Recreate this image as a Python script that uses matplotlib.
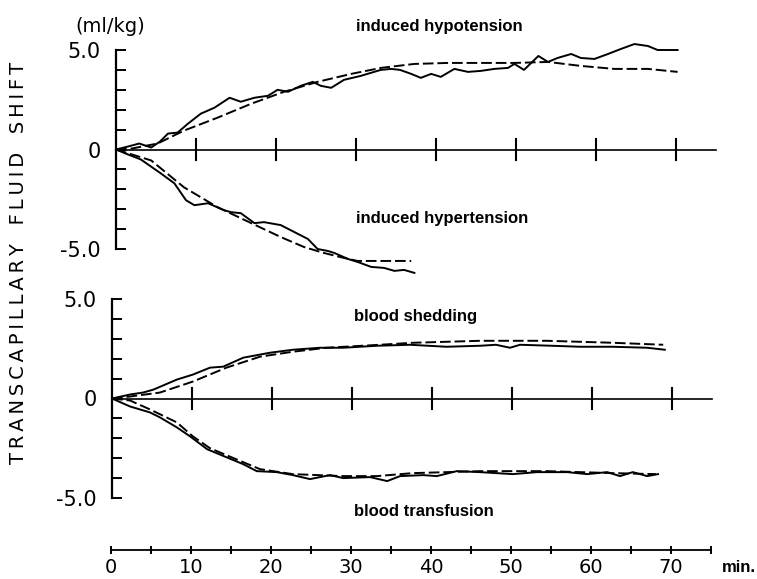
import numpy as np
import matplotlib
matplotlib.use("Agg")
import matplotlib.pyplot as plt
from matplotlib.ticker import FixedLocator, FixedFormatter

# induced hypotension (top panel, upper curves)
hypo_t = [0, 1.5, 2.9, 4.4, 5.5, 6.5, 7.7, 9, 10.6, 12.3, 14.2, 15.6, 17.3, 19, 20.2, 21.5,
          23.1, 24.6, 25.6, 26.9, 28.5, 30.6, 33.1, 34.4, 35.5, 36.9, 38.1, 39.4, 40.6, 42.3,
          44, 45.6, 47.3, 49, 49.8, 51, 52.8, 54, 55.2, 56.9, 58.1, 59.8, 61.5, 63.1, 64.8,
          66.5, 67.7, 70.2]
hypo_v = [0, 0.15, 0.3, 0.1, 0.4, 0.8, 0.85, 1.3, 1.8, 2.1, 2.6, 2.4, 2.6, 2.7, 3.0, 2.9,
          3.2, 3.4, 3.2, 3.1, 3.5, 3.7, 4.0, 4.05, 4.0, 3.8, 3.6, 3.8, 3.65, 4.05,
          3.9, 3.95, 4.05, 4.1, 4.3, 4.0, 4.7, 4.4, 4.6, 4.8, 4.6, 4.55, 4.8, 5.05, 5.3,
          5.2, 5.0, 5.0]
hypo_fit_t = [0, 2, 5.2, 8.5, 12.7, 16.9, 21, 25.2, 29.4, 33.1, 37.3, 41.5, 45.6, 49.8,
              54, 58.1, 62.3, 66.5, 70.2]
hypo_fit_v = [0, 0.05, 0.3, 0.95, 1.6, 2.3, 2.9, 3.4, 3.8, 4.1, 4.3, 4.35, 4.35, 4.35,
              4.4, 4.2, 4.05, 4.05, 3.9]

# induced hypertension (top panel, lower curves)
hyper_t = [0, 1.5, 3.1, 5.6, 7.3, 8.75, 9.8, 11.5, 13.5, 14.4, 15.6, 17.3, 18.5, 20.6,
           22.3, 24, 25.2, 26.5, 27.3, 29, 30.2, 31.9, 33.5, 34.8, 36, 37.3]
hyper_v = [0, -0.25, -0.5, -1.2, -1.7, -2.55, -2.8, -2.7, -3.05, -3.15, -3.2, -3.7, -3.65,
           -3.8, -4.15, -4.5, -5.0, -5.1, -5.2, -5.5, -5.65, -5.9, -5.95, -6.1, -6.05, -6.2]
hyper_fit_t = [0, 4.4, 8.5, 12.7, 16.9, 20.6, 23.5, 26, 28.5, 30.2, 33.1, 36.9]
hyper_fit_v = [0, -0.55, -1.9, -2.9, -3.7, -4.4, -4.9, -5.2, -5.45, -5.6, -5.6, -5.6]

# blood shedding (bottom panel, upper curves)
shed_t = [0, 2.25, 3.9, 5.2, 8.1, 10.1, 12.25, 13.9, 16.4, 19.75, 22.6, 26, 28.9, 33.1,
          37.25, 41.8, 46, 48, 49.75, 51, 55, 58.5, 62.6, 66.9, 69.1]
shed_v = [0, 0.2, 0.3, 0.45, 0.95, 1.2, 1.55, 1.6, 2.05, 2.3, 2.45, 2.55, 2.55, 2.65,
          2.7, 2.6, 2.65, 2.7, 2.55, 2.7, 2.65, 2.6, 2.6, 2.55, 2.45]
shed_fit_t = [0, 2.25, 6, 10.1, 14.3, 18.5, 22.6, 26.8, 33.5, 37.6, 46, 54.4, 62.6, 68.9]
shed_fit_v = [0, 0.1, 0.3, 0.85, 1.55, 2.1, 2.35, 2.55, 2.7, 2.8, 2.9, 2.9, 2.8, 2.7]

# blood transfusion (bottom panel, lower curves)
trans_t = [0, 2.25, 4.75, 6, 8.1, 9.75, 11.9, 14.3, 16.4, 18.1, 20.6, 22.6, 24.75, 27.25,
           28.9, 32.25, 34.4, 36, 38.9, 40.6, 43.1, 46, 50.1, 53.1, 56.9, 59.4, 61.9, 63.5,
           65.1, 66.9, 68.25]
trans_v = [0, -0.4, -0.7, -0.95, -1.45, -1.9, -2.55, -2.95, -3.3, -3.65, -3.7, -3.85,
           -4.05, -3.85, -4.0, -3.95, -4.15, -3.9, -3.85, -3.9, -3.65, -3.7, -3.8, -3.7,
           -3.7, -3.8, -3.7, -3.9, -3.7, -3.9, -3.8]
trans_fit_t = [0, 2.25, 4.75, 8.1, 10.1, 12.25, 16.4, 18.5, 22.6, 28.9, 33.1, 37.6, 46,
               54.4, 62.6, 68]
trans_fit_v = [0, -0.1, -0.55, -1.2, -1.9, -2.5, -3.2, -3.55, -3.8, -3.9, -3.9, -3.75,
               -3.65, -3.65, -3.75, -3.8]

cross_t = [10, 20, 30, 40, 50, 60, 70]
ytick_vals = [-5, 0, 5]
ytick_labels = ["-5.0", "0", "5.0"]
xtick_vals = [0, 10, 20, 30, 40, 50, 60, 70]

W, H = 757, 579
fig = plt.figure(figsize=(W / 100, H / 100), dpi=100)
lab_font = {"family": "Liberation Sans", "size": 12, "weight": "bold"}


def panel(x0, ytop, ybot):
    ax = fig.add_axes([x0 / W, (H - ybot) / H, 600 / W, (ybot - ytop) / H])
    ax.set_xlim(0, 75)
    ax.set_ylim(-5, 5)
    for s in ["top", "right", "bottom"]:
        ax.spines[s].set_visible(False)
    ax.spines["left"].set_linewidth(1.6)
    ax.set_xticks([])
    ax.yaxis.set_major_locator(FixedLocator(ytick_vals))
    ax.yaxis.set_major_formatter(FixedFormatter(ytick_labels))
    ax.yaxis.set_minor_locator(FixedLocator([-4, -3, -2, -1, 1, 2, 3, 4]))
    ax.tick_params(axis="y", which="both", direction="in", length=7, width=1.4, pad=11)
    for lab in ax.get_yticklabels():
        lab.set_fontsize(15)
    ax.plot([0, 75], [0, 0], color="black", lw=1.2, clip_on=False)
    for t in cross_t:
        ax.plot([t, t], [-0.55, 0.55], color="black", lw=1.5, clip_on=False)
    ax.patch.set_alpha(0)
    return ax


dash = (0, (5.5, 2))

ax1 = panel(116, 50, 249)
ax1.plot(hypo_t, hypo_v, color="black", lw=1.4, clip_on=False)
ax1.plot(hypo_fit_t, hypo_fit_v, color="black", lw=1.4, ls=dash, clip_on=False)
ax1.plot(hyper_t, hyper_v, color="black", lw=1.4, clip_on=False)
ax1.plot(hyper_fit_t, hyper_fit_v, color="black", lw=1.4, ls=dash, clip_on=False)

ax2 = panel(112, 299, 498)
ax2.plot(shed_t, shed_v, color="black", lw=1.4, clip_on=False)
ax2.plot(shed_fit_t, shed_fit_v, color="black", lw=1.4, ls=dash, clip_on=False)
ax2.plot(trans_t, trans_v, color="black", lw=1.4, clip_on=False)
ax2.plot(trans_fit_t, trans_fit_v, color="black", lw=1.4, ls=dash, clip_on=False)

# separate time axis at the bottom
ax3 = fig.add_axes([111 / W, (H - 550) / H, 600 / W, 0.001])
ax3.set_xlim(0, 75)
ax3.set_yticks([])
for s in ["top", "right", "left"]:
    ax3.spines[s].set_visible(False)
ax3.spines["bottom"].set_linewidth(1.3)
ax3.set_xticks(xtick_vals)
ax3.set_xticklabels([str(v) for v in xtick_vals], fontsize=14)
ax3.set_xticks([5, 15, 25, 35, 45, 55, 65, 75], minor=True)
ax3.tick_params(axis="x", which="both", direction="inout", length=6, width=1.4, pad=3)
ax3.patch.set_alpha(0)

fig.text(739 / W, 1 - 568 / H, "min.", ha="center", va="center", **lab_font)
fig.text(110 / W, 1 - 27 / H, "(ml/kg)", ha="center", va="center", fontsize=14)
fig.text(356 / W, 1 - 27 / H, "induced hypotension", ha="left", va="center", **lab_font)
fig.text(356 / W, 1 - 219 / H, "induced hypertension", ha="left", va="center", **lab_font)
fig.text(354 / W, 1 - 316 / H, "blood shedding", ha="left", va="center", **lab_font)
fig.text(354 / W, 1 - 511 / H, "blood transfusion", ha="left", va="center", **lab_font)
# thin spaces between letters give the wide lettering of the original
ylab = "   ".join("\u2009".join(w) for w in "TRANSCAPILLARY FLUID SHIFT".split(" "))
fig.text(19 / W, 1 - 263 / H, ylab, rotation=90, ha="center", va="center", fontsize=14)

plt.savefig("out.png", dpi=100)
